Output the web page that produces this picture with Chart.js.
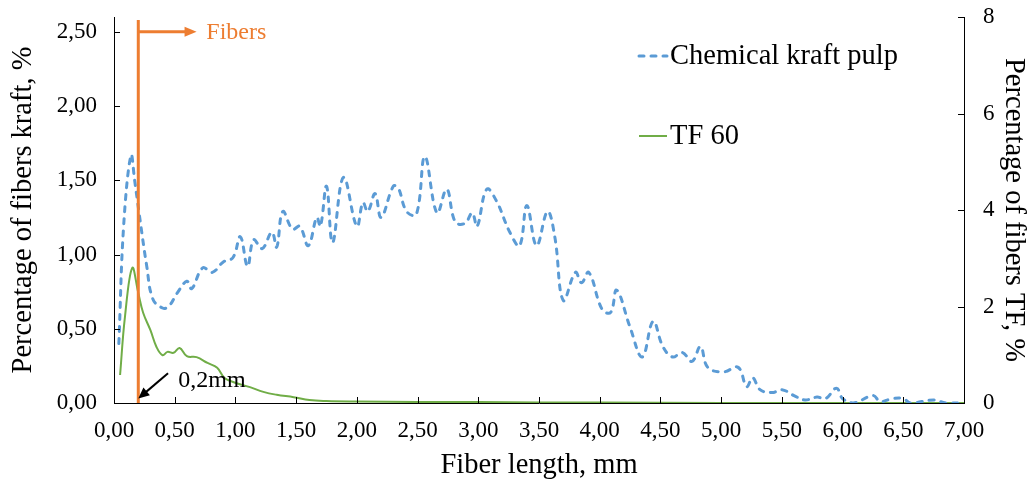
<!DOCTYPE html>
<html>
<head>
<meta charset="utf-8">
<script src="https://cdn.jsdelivr.net/npm/chart.js@4/dist/chart.umd.min.js"></script>
<style>
html, body { margin: 0; padding: 0; background: #fff; }
#wrap { width: 1031px; height: 483px; position: relative; }
</style>
</head>
<body>
<div id="wrap"><canvas id="fiber_length"></canvas></div>
<script>
// fiber length (mm) and percentage of fibers
const kraftLength = [0.04, 0.08, 0.14, 0.17, 0.21, 0.27, 0.32, 0.40, 0.45, 0.52, 0.60, 0.64, 0.73, 0.81, 0.90, 0.98,
    1.04, 1.10, 1.15, 1.22, 1.30, 1.34, 1.39, 1.47, 1.53, 1.60, 1.67, 1.70, 1.75, 1.80, 1.89, 2.00, 2.05, 2.09,
    2.15, 2.20, 2.30, 2.34, 2.41, 2.49, 2.56, 2.66, 2.74, 2.81, 2.89, 2.95, 2.99, 3.07, 3.15, 3.26, 3.34, 3.40,
    3.48, 3.57, 3.63, 3.70, 3.80, 3.85, 3.91, 4.02, 4.09, 4.14, 4.25, 4.35, 4.44, 4.52, 4.60, 4.68, 4.76, 4.83,
    4.89, 5.02, 5.14, 5.21, 5.26, 5.32, 5.42, 5.50, 5.60, 5.69, 5.79, 5.86, 5.95, 6.00, 6.09, 6.25, 6.31, 6.41,
    6.50, 6.56, 6.75, 6.85, 7.00];
const kraftPercent = [0.40, 1.20, 1.67, 1.50, 1.26, 0.92, 0.70, 0.64, 0.65, 0.74, 0.82, 0.77, 0.91, 0.88, 0.95, 0.98,
    1.12, 0.92, 1.10, 1.04, 1.15, 1.05, 1.29, 1.17, 1.19, 1.06, 1.25, 1.19, 1.46, 1.08, 1.52, 1.19, 1.35, 1.29,
    1.41, 1.25, 1.46, 1.45, 1.29, 1.27, 1.66, 1.28, 1.44, 1.22, 1.21, 1.28, 1.19, 1.44, 1.36, 1.15, 1.06, 1.33,
    1.06, 1.29, 1.12, 0.69, 0.88, 0.81, 0.88, 0.63, 0.61, 0.76, 0.51, 0.31, 0.55, 0.38, 0.31, 0.34, 0.28, 0.38,
    0.24, 0.21, 0.24, 0.11, 0.17, 0.09, 0.07, 0.09, 0.05, 0.02, 0.04, 0.03, 0.10, 0.03, 0.00, 0.05, 0.01, 0.03,
    0.03, 0.00, 0.02, 0.00, 0.00];

const tfLength = [0.05, 0.09, 0.15, 0.20, 0.24, 0.30, 0.35, 0.40, 0.44, 0.49, 0.54, 0.60, 0.68, 0.77, 0.85, 0.91,
    1.01, 1.12, 1.23, 1.34, 1.48, 1.61, 1.75, 2.00, 2.50, 3.00, 3.50, 4.00, 5.00, 6.00, 7.00];
const tfPercent = [0.58, 1.78, 2.80, 2.28, 1.87, 1.51, 1.16, 0.99, 1.06, 1.04, 1.14, 0.97, 0.95, 0.83, 0.73, 0.52,
    0.41, 0.33, 0.23, 0.17, 0.12, 0.06, 0.04, 0.03, 0.02, 0.02, 0.01, 0.01, 0.00, 0.00, 0.00];

const seriesNames = ['Chemical kraft pulp', 'TF 60'];
const fiberCut = 0.2; // mm, the 0,2mm marker

const blue = '#5B9BD5';
const green = '#70AD47';
const orange = '#ED7D31';
const serif = "'Liberation Serif', 'Times New Roman', serif";
const titleSize = 28.5;

const comma = (v, d) => v.toFixed(d).replace('.', ',');

// invisible tick marks, only used to push the labels away from the axis
// (ticks.padding would also grow the top padding of the chart area)
const spacer = len => ({ display: true, drawOnChartArea: false, drawTicks: true, tickLength: len, color: 'rgba(0,0,0,0)' });

// inner tick marks, the 0,2mm marker and the legend
const extras = {
    id: 'extras',
    afterDatasetsDraw(chart) {
        const ctx = chart.ctx;
        const x = chart.scales.x, yl = chart.scales.y, yr = chart.scales.y2;
        const area = chart.chartArea;
        ctx.save();

        // tick marks pointing into the plot
        ctx.strokeStyle = '#000';
        ctx.lineWidth = 1;
        ctx.beginPath();
        x.ticks.forEach(t => {
            const px = Math.round(x.getPixelForValue(t.value)) + 0.5;
            ctx.moveTo(px, area.bottom);
            ctx.lineTo(px, area.bottom - 6);
        });
        yl.ticks.forEach(t => {
            const py = Math.round(yl.getPixelForValue(t.value)) + 0.5;
            ctx.moveTo(area.left, py);
            ctx.lineTo(area.left + 6, py);
        });
        yr.ticks.forEach(t => {
            const py = Math.round(yr.getPixelForValue(t.value)) + 0.5;
            ctx.moveTo(area.right, py);
            ctx.lineTo(area.right - 6, py);
        });
        ctx.stroke();

        // orange "Fibers" marker
        const cx = x.getPixelForValue(fiberCut);
        const arrowY = yl.getPixelForValue(2.5);
        const tipX = x.getPixelForValue(0.68);
        ctx.strokeStyle = orange;
        ctx.fillStyle = orange;
        ctx.lineWidth = 3;
        ctx.beginPath();
        ctx.moveTo(cx, yl.getPixelForValue(0));
        ctx.lineTo(cx, yl.getPixelForValue(2.58));
        ctx.moveTo(cx, arrowY);
        ctx.lineTo(tipX - 8, arrowY);
        ctx.stroke();
        ctx.beginPath();
        ctx.moveTo(tipX, arrowY);
        ctx.lineTo(tipX - 12, arrowY - 5);
        ctx.lineTo(tipX - 12, arrowY + 5);
        ctx.closePath();
        ctx.fill();
        ctx.font = '24px ' + serif;
        ctx.textBaseline = 'middle';
        ctx.textAlign = 'left';
        ctx.fillText('Fibers', x.getPixelForValue(0.76), arrowY + 1);

        // black arrow pointing at 0,2 mm
        const ax0 = x.getPixelForValue(0.445), ay0 = yl.getPixelForValue(0.2);
        const ax1 = x.getPixelForValue(fiberCut), ay1 = yl.getPixelForValue(0.03);
        const ang = Math.atan2(ay1 - ay0, ax1 - ax0);
        ctx.strokeStyle = '#000';
        ctx.fillStyle = '#000';
        ctx.lineWidth = 2;
        ctx.beginPath();
        ctx.moveTo(ax0, ay0);
        ctx.lineTo(ax1 - 8 * Math.cos(ang), ay1 - 8 * Math.sin(ang));
        ctx.stroke();
        ctx.beginPath();
        ctx.moveTo(ax1, ay1);
        ctx.lineTo(ax1 - 11 * Math.cos(ang) + 5 * Math.sin(ang), ay1 - 11 * Math.sin(ang) - 5 * Math.cos(ang));
        ctx.lineTo(ax1 - 11 * Math.cos(ang) - 5 * Math.sin(ang), ay1 - 11 * Math.sin(ang) + 5 * Math.cos(ang));
        ctx.closePath();
        ctx.fill();
        ctx.fillText('0,2mm', x.getPixelForValue(0.53), yl.getPixelForValue(0.15));

        // legend
        const lx = 637, ly = [56, 136];
        ctx.font = titleSize + 'px ' + serif;
        ctx.fillStyle = '#000';
        chart.data.datasets.forEach((ds, i) => {
            ctx.strokeStyle = ds.borderColor;
            ctx.lineWidth = ds.borderWidth;
            ctx.lineCap = ds.borderCapStyle || 'butt';
            ctx.setLineDash(ds.borderDash || []);
            ctx.beginPath();
            ctx.moveTo(lx + 2, ly[i]);
            ctx.lineTo(lx + 30, ly[i]);
            ctx.stroke();
            ctx.setLineDash([]);
            ctx.fillText(ds.label, lx + 33, ly[i] + 1);
        });
        ctx.restore();
    }
};

const ctx = document.getElementById('fiber_length').getContext('2d');
const fiberChart = new Chart(ctx, {
    type: 'line',
    data: {
        datasets: [
            {
                label: seriesNames[0],
                data: kraftLength.map((v, i) => ({ x: v, y: kraftPercent[i] })),
                yAxisID: 'y',
                borderColor: blue,
                borderWidth: 3,
                borderDash: [5, 7],
                borderCapStyle: 'round',
                pointRadius: 0,
                fill: false,
                tension: 0.4
            },
            {
                label: seriesNames[1],
                data: tfLength.map((v, i) => ({ x: v, y: tfPercent[i] })),
                yAxisID: 'y2',
                borderColor: green,
                borderWidth: 2,
                pointRadius: 0,
                fill: false,
                tension: 0.4
            }
        ]
    },
    options: {
        responsive: true,
        maintainAspectRatio: false,
        animation: false,
        layout: { padding: { top: 17, left: 0, right: 0, bottom: 0 } },
        scales: {
            x: {
                type: 'linear',
                min: 0,
                max: 7,
                grid: spacer(10),
                border: { display: true, color: '#000', width: 1 },
                ticks: {
                    stepSize: 0.5,
                    color: '#000',
                    padding: 4,
                    maxRotation: 0,
                    autoSkip: false,
                    font: { family: serif, size: 23 },
                    callback: v => comma(v, 2)
                },
                title: {
                    display: true,
                    text: 'Fiber length, mm',
                    color: '#000',
                    font: { family: serif, size: titleSize },
                    padding: { top: 0, bottom: 0 }
                },
                afterFit: s => { s.height = 80; }
            },
            y: {
                position: 'left',
                min: 0,
                max: 2.6,
                grid: spacer(17),
                border: { display: true, color: '#000', width: 1 },
                ticks: {
                    stepSize: 0.5,
                    includeBounds: false,
                    color: '#000',
                    padding: 0,
                    font: { family: serif, size: 23 },
                    callback: v => comma(v, 2)
                },
                title: {
                    display: true,
                    text: 'Percentage of fibers kraft, %',
                    color: '#000',
                    font: { family: serif, size: titleSize },
                    padding: { top: 6, bottom: 0 }
                },
                afterFit: s => { s.width = 114; }
            },
            y2: {
                position: 'right',
                min: 0,
                max: 8,
                grid: spacer(19),
                border: { display: true, color: '#000', width: 1 },
                ticks: {
                    stepSize: 2,
                    color: '#000',
                    padding: 0,
                    font: { family: serif, size: 23 },
                    callback: v => String(v)
                },
                title: {
                    display: true,
                    text: 'Percentage of fibers TF, %',
                    color: '#000',
                    font: { family: serif, size: titleSize },
                    padding: { top: 0, bottom: 0 }
                },
                afterFit: s => { s.width = 67; }
            }
        },
        plugins: {
            legend: { display: false },
            tooltip: { enabled: false }
        }
    },
    plugins: [extras]
});
</script>
</body>
</html>
